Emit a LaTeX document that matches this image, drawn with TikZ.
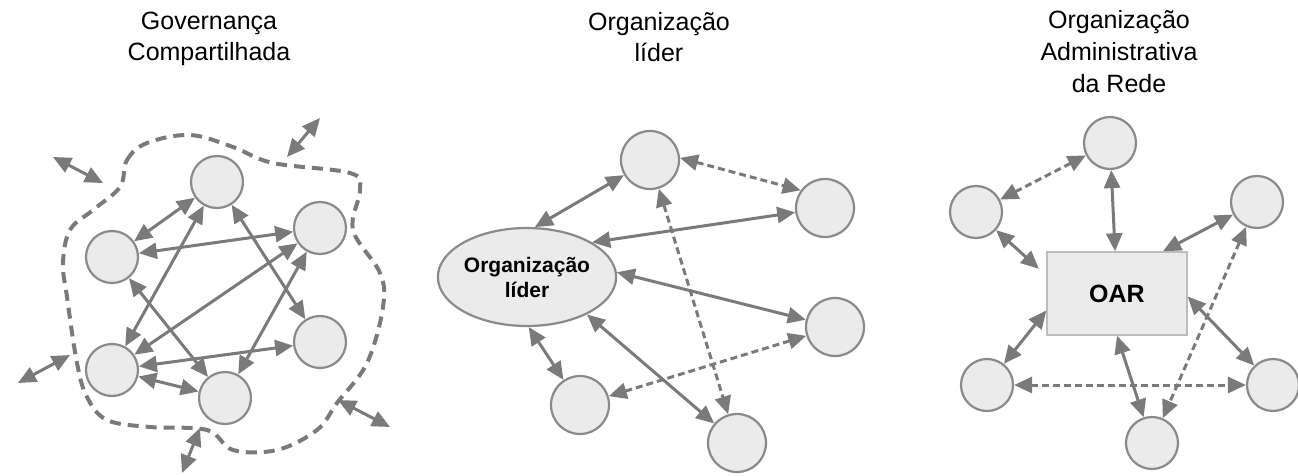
\documentclass[tikz,border=0pt]{standalone}
\usepackage{fontspec}
\setmainfont{Liberation Sans}
\usetikzlibrary{arrows.meta,shapes.geometric}

\definecolor{edgegray}{HTML}{7A7A7A}
\definecolor{nodefill}{HTML}{EBEBEB}
\definecolor{nodeline}{HTML}{8A8A8A}
\definecolor{boxline}{HTML}{BDBDBD}

\tikzset{
  circ/.style={circle, draw=nodeline, fill=nodefill, line width=2.2pt,
    minimum size=#1, inner sep=0pt},
  circ/.default=52pt,
  link/.style={draw=edgegray, line width=3pt,
    {Triangle[length=18pt,width=16pt]}-{Triangle[length=18pt,width=16pt]}},
  dlink/.style={link, dash pattern=on 7pt off 4pt},
  title/.style={align=center, inner sep=0pt, anchor=north,
    font=\fontsize{25}{31}\selectfont}
}

\begin{document}
\begin{tikzpicture}[x=1pt,y=-1pt]
\useasboundingbox (0,0) rectangle (1298,476);

% titles
\node[title] (t1) at (209,12) {Governança\\Compartilhada};
\node[title] (t2) at (659,12) {Organização\\líder};
\node[title, font=\fontsize{25}{32}\selectfont] (t3) at (1119,10)
  {Organização\\Administrativa\\da Rede};

% governanca compartilhada
\draw[edgegray, line width=4pt, dash pattern=on 11pt off 7pt]
  plot[smooth cycle, tension=0.6] coordinates {(120,187) (127,160) (147,143)
  (190,135) (233,147) (273,163) (350,173) (360,190) (353,230) (380,273)
  (383,307) (367,363) (337,403) (317,430) (277,450) (233,450) (207,430)
  (150,427) (107,420) (87,397) (77,363) (67,297) (63,263) (70,230) (93,210)};

\node[circ] (gt) at (217,182) {};
\node[circ] (gur) at (320,228) {};
\node[circ] (gul) at (112,257) {};
\node[circ] (gmr) at (320,342) {};
\node[circ] (gll) at (112,370) {};
\node[circ] (gb) at (225,398) {};

\draw[link] (gul) -- (gt);
\draw[link] (gul) -- (gur);
\draw[link] (gul) -- (gb);
\draw[link] (gt) -- (gll);
\draw[link] (gt) -- (gmr);
\draw[link] (gur) -- (gll);
\draw[link] (gur) -- (gb);
\draw[link] (gmr) -- (gll);
\draw[link] (gll) -- (gb);

\coordinate (ea1) at (53,157);  \coordinate (ea2) at (103,183);
\coordinate (eb1) at (320,118); \coordinate (eb2) at (287,157);
\coordinate (ec1) at (18,383);  \coordinate (ec2) at (70,355);
\coordinate (ed1) at (200,428); \coordinate (ed2) at (182,473);
\coordinate (ee1) at (338,400); \coordinate (ee2) at (390,427);
\draw[link] (ea1) -- (ea2);
\draw[link] (eb1) -- (eb2);
\draw[link] (ec1) -- (ec2);
\draw[link] (ed1) -- (ed2);
\draw[link] (ee1) -- (ee2);

% organizacao lider
\node[ellipse, draw=nodeline, fill=nodefill, line width=2.2pt,
  minimum width=166pt, minimum height=98pt, inner sep=0pt, align=center,
  font=\fontsize{21}{25}\selectfont\bfseries] (ol) at (527,277)
  {Organização\\líder};
\node[circ=58pt] (mt) at (650,160) {};
\node[circ=58pt] (mur) at (825,208) {};
\node[circ=58pt] (mmr) at (835,327) {};
\node[circ=58pt] (mll) at (580,405) {};
\node[circ=58pt] (mb) at (737,443) {};

\draw[link] (ol.81) -- (mt);
\draw[link] (ol.28) -- (mur);
\draw[link] (ol.3) -- (mmr);
\draw[link] (ol.-88) -- (mll);
\draw[link] (ol.-32) -- (mb);
\draw[dlink] (mt.4) -- (mur.144);
\draw[dlink] (mt) -- (mb);
\draw[dlink] (mll) -- (mmr);

% organizacao administrativa da rede
\node[draw=boxline, fill=nodefill, line width=1.4pt, minimum width=140pt,
  minimum height=83pt, font=\fontsize{25}{30}\selectfont\bfseries]
  (oar) at (1117,293.5) {OAR};
\node[circ] (rt) at (1110,143) {};
\node[circ] (rul) at (976,212) {};
\node[circ] (rur) at (1257,202) {};
\node[circ] (rll) at (987,385) {};
\node[circ] (rlr) at (1273,385) {};
\node[circ] (rb) at (1152,443) {};

\draw[link] (rt) -- (oar);
\draw[link, shorten >=10pt] (rul) -- ([yshift=18pt]oar.west);
\draw[link] (rur) -- ([xshift=46pt]oar.north);
\draw[link] ([yshift=-17pt]oar.west) -- (rll);
\draw[link] ([yshift=-3pt]oar.east) -- (rlr);
\draw[link] (oar.south) -- (rb);
\draw[dlink] (rt) -- (rul);
\draw[dlink] (rur) -- (rb);
\draw[dlink] (rll) -- (rlr);
\end{tikzpicture}
\end{document}
